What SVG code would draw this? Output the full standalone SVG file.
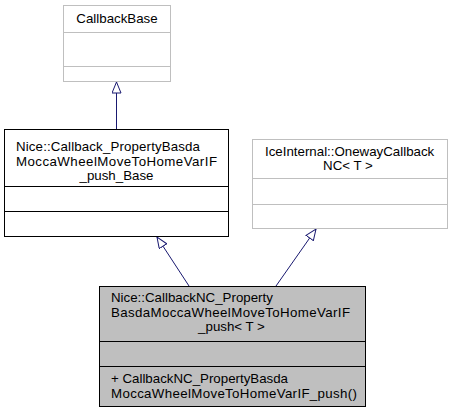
<svg xmlns="http://www.w3.org/2000/svg" width="453" height="412" viewBox="0 0 453 412">
<style>
text{font-family:"Liberation Sans",Arial,Helvetica,sans-serif;font-size:13.3px;fill:#000}
.mid{text-anchor:middle}
.light rect,.light line{stroke:#bfbfbf;fill:#fff}
.dark rect,.dark line{stroke:#000;fill:#fff}
.cur rect,.cur line{stroke:#000;fill:#bfbfbf}
rect,line{stroke-width:1}
.edge{stroke:#191970;fill:none;stroke-width:1}
</style>
<defs>
<marker id="tri" viewBox="0 0 12 10" refX="11.5" refY="5" markerWidth="12" markerHeight="10" markerUnits="userSpaceOnUse" orient="auto">
<path d="M0.5,0.5 L11.5,5 L0.5,9.5 Z" fill="#fff" stroke="#191970" stroke-width="1"/>
</marker>
</defs>
<rect width="453" height="412" fill="#fff"/>
<g id="connectors">
<path class="edge" d="M116.5,129 L116.5,82" marker-end="url(#tri)"/>
<path class="edge" d="M189,286 L157,237" marker-end="url(#tri)"/>
<path class="edge" d="M276,286 L316,229" marker-end="url(#tri)"/>
</g>
<g id="CallbackBase" class="light">
<rect x="63.5" y="5.5" width="107" height="76"/>
<line x1="63.5" y1="32.5" x2="170.5" y2="32.5"/>
<line x1="63.5" y1="66.5" x2="170.5" y2="66.5"/>
<text class="mid" x="117" y="23">CallbackBase</text>
</g>
<g id="Callback_Base" class="dark">
<rect x="4.5" y="129.5" width="224" height="107"/>
<line x1="4.5" y1="186.5" x2="228.5" y2="186.5"/>
<line x1="4.5" y1="211.5" x2="228.5" y2="211.5"/>
<text x="16" y="151" textLength="184" lengthAdjust="spacing">Nice::Callback_PropertyBasda</text>
<text x="16" y="166" textLength="201" lengthAdjust="spacing">MoccaWheelMoveToHomeVarIF</text>
<text class="mid" x="116.5" y="180">_push_Base</text>
</g>
<g id="OnewayCallbackNC" class="light">
<rect x="252.5" y="139.5" width="195" height="89"/>
<line x1="252.5" y1="178.5" x2="447.5" y2="178.5"/>
<line x1="252.5" y1="204.5" x2="447.5" y2="204.5"/>
<text x="265" y="156">IceInternal::OnewayCallback</text>
<text class="mid" x="348" y="170">NC&lt; T &gt;</text>
</g>
<g id="CallbackNC" class="cur">
<rect x="99.5" y="286.5" width="266" height="120"/>
<line x1="99.5" y1="341.5" x2="365.5" y2="341.5"/>
<line x1="99.5" y1="366.5" x2="365.5" y2="366.5"/>
<text x="111" y="302">Nice::CallbackNC_Property</text>
<text x="111" y="317" textLength="239" lengthAdjust="spacing">BasdaMoccaWheelMoveToHomeVarIF</text>
<text class="mid" x="231.5" y="331">_push&lt; T &gt;</text>
<text x="111" y="383">+ CallbackNC_PropertyBasda</text>
<text x="111" y="398" textLength="246" lengthAdjust="spacing">MoccaWheelMoveToHomeVarIF_push()</text>
</g>
</svg>
